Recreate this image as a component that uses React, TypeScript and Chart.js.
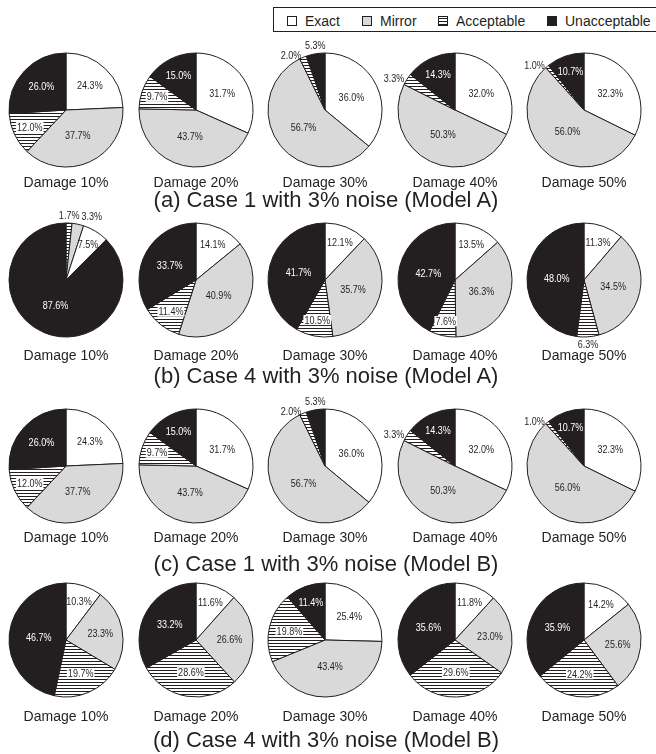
import React, { useEffect, useRef } from 'react';
import { Chart, registerables } from 'chart.js';

Chart.register(...registerables);

const CATEGORIES = ['Exact', 'Mirror', 'Acceptable', 'Unacceptable'];
const DAMAGE_LEVELS = ['Damage 10%', 'Damage 20%', 'Damage 30%', 'Damage 40%', 'Damage 50%'];
const PANEL_TITLES = [
  '(a) Case 1 with 3% noise (Model A)',
  '(b) Case 4 with 3% noise (Model A)',
  '(c) Case 1 with 3% noise (Model B)',
  '(d) Case 4 with 3% noise (Model B)',
];

// Shares (%) per damage level, listed in CATEGORIES order
const CASE1_MODEL_A = [
  [24.3, 37.7, 12.0, 26.0],
  [31.7, 43.7, 9.7, 15.0],
  [36.0, 56.7, 2.0, 5.3],
  [32.0, 50.3, 3.3, 14.3],
  [32.3, 56.0, 1.0, 10.7],
];
const CASE4_MODEL_A = [
  [7.5, 3.3, 1.7, 87.6],
  [14.1, 40.9, 11.4, 33.7],
  [12.1, 35.7, 10.5, 41.7],
  [13.5, 36.3, 7.6, 42.7],
  [11.3, 34.5, 6.3, 48.0],
];
const CASE1_MODEL_B = [
  [24.3, 37.7, 12.0, 26.0],
  [31.7, 43.7, 9.7, 15.0],
  [36.0, 56.7, 2.0, 5.3],
  [32.0, 50.3, 3.3, 14.3],
  [32.3, 56.0, 1.0, 10.7],
];
const CASE4_MODEL_B = [
  [10.3, 23.3, 19.7, 46.7],
  [11.6, 26.6, 28.6, 33.2],
  [25.4, 43.4, 19.8, 11.4],
  [11.8, 23.0, 29.6, 35.6],
  [14.2, 25.6, 24.2, 35.9],
];
const PANELS = [CASE1_MODEL_A, CASE4_MODEL_A, CASE1_MODEL_B, CASE4_MODEL_B];

// Clockwise slice order from 12 o'clock (indices into CATEGORIES)
const STANDARD_ORDER = [0, 1, 2, 3];
const CASE4_A_DAMAGE10_ORDER = [2, 1, 0, 3];
const PANEL_ORDERS = [
  [STANDARD_ORDER, STANDARD_ORDER, STANDARD_ORDER, STANDARD_ORDER, STANDARD_ORDER],
  [CASE4_A_DAMAGE10_ORDER, STANDARD_ORDER, STANDARD_ORDER, STANDARD_ORDER, STANDARD_ORDER],
  [STANDARD_ORDER, STANDARD_ORDER, STANDARD_ORDER, STANDARD_ORDER, STANDARD_ORDER],
  [STANDARD_ORDER, STANDARD_ORDER, STANDARD_ORDER, STANDARD_ORDER, STANDARD_ORDER],
];

// ---- styling / layout ----
const INK = '#231f20';
const WHITE = '#ffffff';
const GRAY = '#d9d9d9';
const FONT = '"Liberation Sans", Arial, Helvetica, sans-serif';
const PIE_X = [66, 196, 325, 455, 584];
const ROW_Y = [110, 280, 466, 640];
const CAPTION_Y = [182, 355, 537, 716];
const TITLE_Y = [200, 376, 564, 740];
const RADIUS = 57;
const CANVAS_SIZE = 180;
const LABEL_SIZE = 11;
const NARROW = 0.82;
const LEGEND_ICON_X = [287, 362, 438, 547];

function makeHatch(): CanvasPattern | string {
  const tile = document.createElement('canvas');
  tile.width = 4;
  tile.height = 3;
  const t = tile.getContext('2d');
  if (!t) return GRAY;
  t.fillStyle = WHITE;
  t.fillRect(0, 0, 4, 3);
  t.fillStyle = INK;
  t.fillRect(0, 0, 4, 1);
  const p = t.createPattern(tile, 'repeat');
  return p || GRAY;
}

type Box = { l: number; r: number; t: number; b: number };

const sliceLabels = {
  id: 'sliceLabels',
  afterDatasetsDraw(chart: any) {
    const ctx: CanvasRenderingContext2D = chart.ctx;
    const meta = chart.getDatasetMeta(0);
    const ds = chart.data.datasets[0];
    const placed: Box[] = [];
    meta.data.forEach((arc: any, i: number) => {
      const v: number = ds.data[i];
      const cat: number = ds.categoryIndex[i];
      const { x, y, startAngle, endAngle, outerRadius } = arc.getProps(
        ['x', 'y', 'startAngle', 'endAngle', 'outerRadius'],
        true
      );
      const mid = (startAngle + endAngle) / 2;
      const dx = Math.cos(mid);
      const dy = Math.sin(mid);
      const text = v.toFixed(1) + '%';
      ctx.save();
      ctx.font = `${LABEL_SIZE}px ${FONT}`;
      const w = ctx.measureText(text).width * NARROW;
      const h = 8;
      let tx: number;
      let ty: number;
      const outside = v < 7;
      if (outside) {
        const ax = x + dx * (outerRadius + 2);
        const ay = y + dy * (outerRadius + 2);
        if (Math.abs(dx) > 0.3) {
          tx = ax + Math.sign(dx) * (w / 2 + 1);
          ty = ay;
        } else {
          tx = ax;
          ty = ay + Math.sign(dy) * (h / 2 + 2);
        }
        // keep neighbouring outside labels from overlapping
        for (const p of placed) {
          const l = tx - w / 2;
          const r = tx + w / 2;
          const tp = ty - h / 2;
          const bt = ty + h / 2;
          if (l < p.r && r > p.l && tp < p.b && bt > p.t) {
            tx += p.r - l + 2;
          }
        }
        placed.push({ l: tx - w / 2, r: tx + w / 2, t: ty - h / 2, b: ty + h / 2 });
      } else {
        const f = Math.min(0.8, Math.max(0.48, 0.8 - 0.008 * v));
        tx = x + dx * outerRadius * f;
        ty = y + dy * outerRadius * f;
      }
      if (cat === 2 && !outside) {
        ctx.fillStyle = WHITE;
        ctx.fillRect(tx - w / 2 - 1, ty - 5, w + 2, 10);
      }
      ctx.fillStyle = cat === 3 && !outside ? WHITE : INK;
      ctx.translate(tx, ty);
      ctx.scale(NARROW, 1);
      ctx.textAlign = 'center';
      ctx.textBaseline = 'middle';
      ctx.fillText(text, 0, 0.5);
      ctx.restore();
    });
  },
};

function Pie({ values, order, cx, cy }: { values: number[]; order: number[]; cx: number; cy: number }) {
  const ref = useRef<HTMLCanvasElement>(null);
  useEffect(() => {
    const canvas = ref.current;
    if (!canvas) return;
    const fills = [WHITE, GRAY, makeHatch(), INK];
    const chart = new Chart(canvas, {
      type: 'pie',
      data: {
        labels: order.map((k) => CATEGORIES[k]),
        datasets: [
          {
            data: order.map((k) => values[k]),
            backgroundColor: order.map((k) => fills[k]) as any,
            borderColor: INK,
            borderWidth: 1,
            radius: RADIUS,
            categoryIndex: order,
          } as any,
        ],
      },
      options: {
        responsive: false,
        maintainAspectRatio: false,
        animation: false,
        devicePixelRatio: 1,
        events: [],
        radius: RADIUS,
        layout: { padding: 0 },
        plugins: { legend: { display: false }, tooltip: { enabled: false }, title: { display: false } },
      } as any,
      plugins: [sliceLabels as any],
    });
    return () => chart.destroy();
  }, [values, order]);
  return (
    <canvas
      ref={ref}
      width={CANVAS_SIZE}
      height={CANVAS_SIZE}
      style={{ position: 'absolute', left: cx - CANVAS_SIZE / 2, top: cy - CANVAS_SIZE / 2, width: CANVAS_SIZE, height: CANVAS_SIZE }}
    />
  );
}

function Text({ x, y, size, children }: { x: number; y: number; size: number; children: React.ReactNode }) {
  return (
    <div
      style={{
        position: 'absolute',
        left: x,
        top: y,
        transform: 'translate(-50%, -50%)',
        fontFamily: FONT,
        fontSize: size,
        lineHeight: 1,
        color: INK,
        whiteSpace: 'nowrap',
      }}
    >
      {children}
    </div>
  );
}

const ICON_FILLS = [
  WHITE,
  GRAY,
  `repeating-linear-gradient(to bottom, ${WHITE} 0px, ${WHITE} 1px, ${INK} 1px, ${INK} 2px, ${WHITE} 2px, ${WHITE} 3px)`,
  INK,
];

export default function App() {
  useEffect(() => {
    document.body.style.margin = '0';
  }, []);
  return (
    <div style={{ position: 'relative', width: 656, height: 754, overflow: 'hidden', background: WHITE }}>
      <div
        style={{
          position: 'absolute',
          left: 273,
          top: 7,
          width: 420,
          height: 25,
          border: `1px solid ${INK}`,
          boxSizing: 'border-box',
        }}
      />
      {CATEGORIES.map((c, i) => (
        <React.Fragment key={c}>
          <div
            style={{
              position: 'absolute',
              left: LEGEND_ICON_X[i],
              top: 16,
              width: 10,
              height: 10,
              boxSizing: 'border-box',
              border: `1px solid ${INK}`,
              background: ICON_FILLS[i],
            }}
          />
          <div
            style={{
              position: 'absolute',
              left: LEGEND_ICON_X[i] + 18,
              top: 21,
              transform: 'translateY(-50%)',
              fontFamily: FONT,
              fontSize: 14,
              lineHeight: 1,
              color: INK,
              whiteSpace: 'nowrap',
            }}
          >
            {c}
          </div>
        </React.Fragment>
      ))}
      {PANELS.map((panel, r) => (
        <React.Fragment key={r}>
          {panel.map((values, c) => (
            <React.Fragment key={c}>
              <Pie values={values} order={PANEL_ORDERS[r][c]} cx={PIE_X[c]} cy={ROW_Y[r]} />
              <Text x={PIE_X[c]} y={CAPTION_Y[r]} size={14}>
                {DAMAGE_LEVELS[c]}
              </Text>
            </React.Fragment>
          ))}
          <Text x={326} y={TITLE_Y[r]} size={22}>
            {PANEL_TITLES[r]}
          </Text>
        </React.Fragment>
      ))}
    </div>
  );
}
